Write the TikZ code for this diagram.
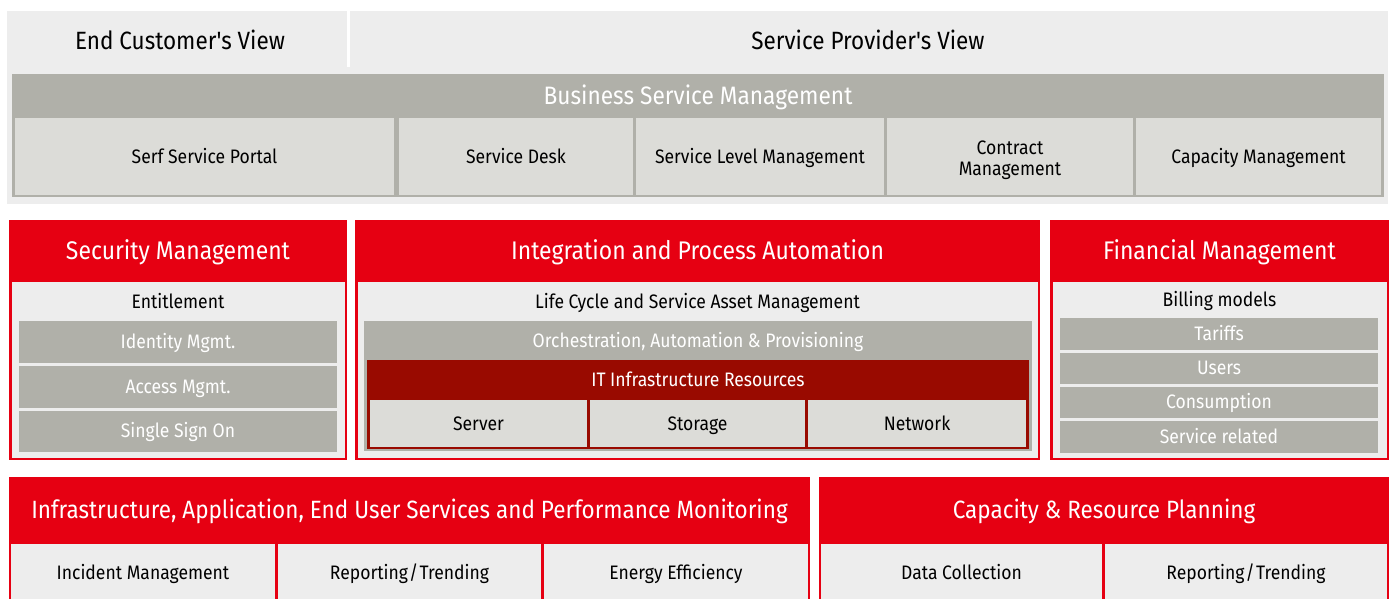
\documentclass[tikz,border=0pt]{standalone}
\usepackage{fontspec}
\setmainfont{Fira Sans}[FakeStretch=0.9, Ligatures=TeXOff]
\definecolor{fred}{HTML}{E60012}
\definecolor{dred}{HTML}{990A00}
\definecolor{bggray}{HTML}{EDEDED}
\definecolor{midgray}{HTML}{B0B0A9}
\definecolor{lgray}{HTML}{DCDCD8}
\tikzset{
  base/.style={inner sep=0pt, outer sep=0pt, align=center},
  capc/.style={base, text height=#1, text depth=0pt},
  band/.style={base, fill=bggray},
  viewlbl/.style={capc=17.2pt, text=black, font=\fontsize{25}{28}\selectfont},
  bsmhdr/.style={capc=17.3pt, text=white, font=\fontsize{25.2}{27}\selectfont},
  frame/.style={base, fill=midgray},
  cell/.style={capc=13.4pt, fill=lgray, text=black, font=\fontsize{19.5}{21}\selectfont},
  cellml/.style={base, fill=lgray},
  redframe/.style={base, fill=fred},
  redhdr/.style={capc=17.6pt, text=white, font=\fontsize{25.5}{28}\selectfont},
  redhdrb/.style={capc=17.2pt, text=white, font=\fontsize{25}{28}\selectfont},
  panel/.style={base, fill=bggray},
  sublbl/.style={capc=13.4pt, text=black, font=\fontsize{19.5}{21}\selectfont},
  graybar/.style={capc=13.4pt, fill=midgray, text=white, font=\fontsize{19.5}{21}\selectfont},
  darkbar/.style={capc=13.4pt, fill=dred, text=white, font=\fontsize{19.5}{21}\selectfont},
  lcell/.style={capc=13.4pt, fill=bggray, text=black, font=\fontsize{19.5}{21}\selectfont},
}
\newcommand{\pbox}[7]{%
  \pgfmathsetmacro\pbcx{(#2+#4)/2}\pgfmathsetmacro\pbcy{(#3+#5)/2}%
  \pgfmathsetmacro\pbw{#4-#2}\pgfmathsetmacro\pbh{#5-#3}%
  \node[#6, minimum width=\pbw pt, minimum height=\pbh pt] (#1) at (\pbcx,\pbcy) {#7};}
\newcommand{\rslash}{\kern1.2pt/\kern1.2pt}
\begin{document}
\begin{tikzpicture}[x=1pt,y=-1pt]
\useasboundingbox[fill=white] (0,0) rectangle (1390,598);
% top band
\pbox{band}{7}{11}{1388}{204}{band}{}
\pbox{divider}{347}{11}{350}{67}{base, fill=white}{}
\node[viewlbl] (ecv) at (180,40.5) {End Customer's View};
\node[viewlbl] (spv) at (868,40.5) {Service Provider's View};
% business service management
\pbox{bsm}{12}{74}{1384}{197}{frame}{}
\pbox{bsmh}{12}{74}{1384}{117}{bsmhdr}{Business Service Management}
\pbox{ssp}{15}{118}{394}{195}{cell}{Serf Service Portal}
\pbox{sd}{399}{118}{633}{195}{cell}{Service Desk}
\pbox{slm}{636}{118}{884}{195}{cell}{Service Level Management}
\pbox{cm}{887}{118}{1133}{195}{cellml}{}
\node[base, text=black, font=\fontsize{19.5}{21}\selectfont, anchor=base] (cmt) at (1010,175) {Contract\\Management};
\pbox{capm}{1136}{118}{1381}{195}{cell}{Capacity Management}
% security management
\pbox{sec}{9}{220}{347}{460}{redframe}{}
\pbox{secp}{11.5}{282}{344.5}{457.5}{panel}{}
\pbox{sech}{9}{220}{347}{282}{redhdr}{Security Management}
\pbox{ent}{11.5}{282}{344.5}{322}{sublbl}{Entitlement}
\pbox{idm}{19}{321}{337}{363}{graybar}{Identity Mgmt.}
\pbox{acm}{19}{366}{337}{408}{graybar}{Access Mgmt.}
\pbox{sso}{19}{410.5}{337}{452}{graybar}{Single Sign On}
% integration
\pbox{ipa}{355}{220}{1040}{460}{redframe}{}
\pbox{ipap}{357.5}{282}{1037.5}{457.5}{panel}{}
\pbox{ipah}{355}{220}{1040}{282}{redhdr}{Integration and Process Automation}
\pbox{lc}{357.5}{282}{1037.5}{322}{sublbl}{Life Cycle and Service Asset Management}
\pbox{orch}{364}{321}{1032}{451}{frame}{}
\pbox{orchl}{364}{321}{1032}{360}{graybar}{Orchestration, Automation \& Provisioning}
\pbox{itr}{367}{360}{1029}{449}{base, fill=dred}{}
\pbox{itrl}{367}{360}{1029}{399}{darkbar}{IT Infrastructure Resources}
\pbox{srv}{370}{400}{587}{447}{cell}{Server}
\pbox{sto}{590}{400}{805}{447}{cell}{Storage}
\pbox{net}{808}{400}{1026}{447}{cell}{Network}
% financial
\pbox{fin}{1050}{220}{1389}{460}{redframe}{}
\pbox{finp}{1052.5}{282}{1386.5}{457.5}{panel}{}
\pbox{finh}{1050}{220}{1389}{282}{redhdr}{Financial Management}
\pbox{bil}{1052.5}{282}{1386.5}{318}{sublbl}{Billing models}
\pbox{tar}{1060}{318}{1378}{350}{graybar}{Tariffs}
\pbox{usr}{1060}{352.5}{1378}{384}{graybar}{Users}
\pbox{con}{1060}{386.5}{1378}{418}{graybar}{Consumption}
\pbox{srl}{1060}{421}{1378}{453}{graybar}{Service related}
% monitoring
\pbox{mon}{9}{477}{810}{602}{redframe}{}
\pbox{monh}{9}{477}{810}{543}{redhdrb}{Infrastructure, Application, End User Services and Performance Monitoring}
\pbox{inc}{11}{544}{275}{601}{lcell}{Incident Management}
\pbox{rep}{278}{544}{541}{601}{lcell}{Reporting\rslash Trending}
\pbox{ene}{544}{544}{808}{601}{lcell}{Energy Efficiency}
% capacity planning
\pbox{crp}{819}{477}{1389}{602}{redframe}{}
\pbox{crph}{819}{477}{1389}{543}{redhdrb}{Capacity \& Resource Planning}
\pbox{dc}{821}{544}{1102}{601}{lcell}{Data Collection}
\pbox{rep2}{1105}{544}{1387}{601}{lcell}{Reporting\rslash Trending}
\end{tikzpicture}
\end{document}
